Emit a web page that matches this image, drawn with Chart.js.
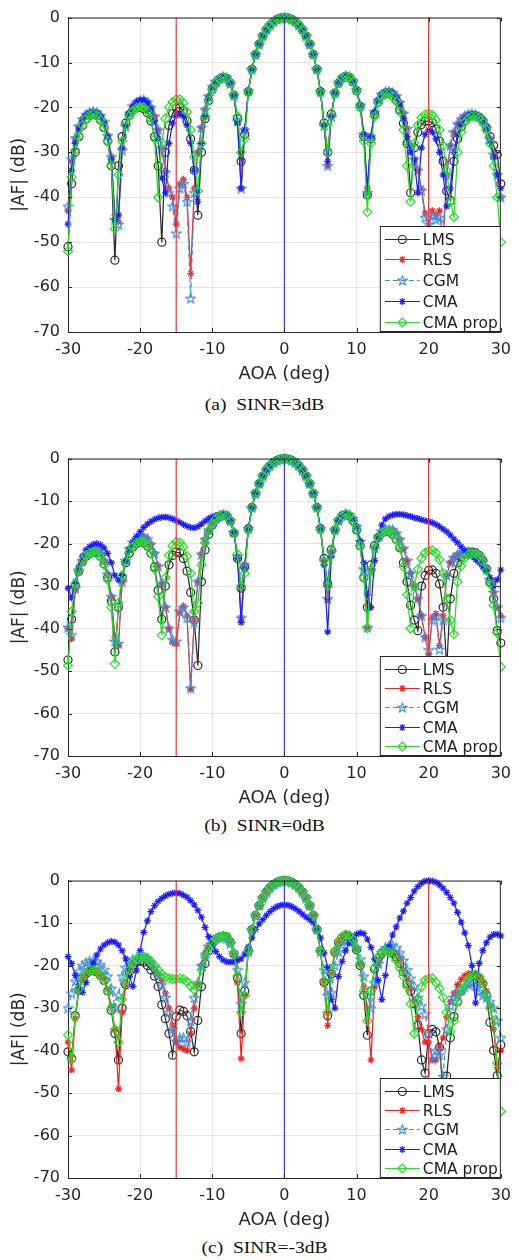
<!DOCTYPE html>
<html>
<head>
<meta charset="utf-8">
<script src="https://cdn.jsdelivr.net/npm/chart.js@4.4.1/dist/chart.umd.min.js"></script>
<style>
  html, body { margin: 0; padding: 0; background: #fff; overflow: hidden; }
  body { width: 519px; height: 1260px; position: relative; }
  .panel { position: absolute; left: 0; width: 519px; }
  .cap { position: absolute; left: 5px; width: 519px; height: 20px; line-height: 20px; text-align: center;
         font-family: "Liberation Serif", serif; font-size: 16px; color: #111; transform: scaleX(1.22); }
</style>
</head>
<body>
<div class="panel" style="top:0px;height:387px"><canvas id="ca" width="519" height="387"></canvas></div>
<div class="cap" style="top:395px">(a)&nbsp;&nbsp;SINR=3dB</div>
<div class="panel" style="top:441px;height:370px"><canvas id="cb" width="519" height="370"></canvas></div>
<div class="cap" style="top:816px">(b)&nbsp;&nbsp;SINR=0dB</div>
<div class="panel" style="top:863px;height:370px"><canvas id="cc" width="519" height="370"></canvas></div>
<div class="cap" style="top:1238px">(c)&nbsp;&nbsp;SINR=-3dB</div>

<script>
// angle of arrival grid (deg)
const aoa = [
  -30, -29.5, -29, -28.5, -28, -27.5, -27, -26.5, -26, -25.5,
  -25, -24.5, -24, -23.5, -23, -22.5, -22, -21.5, -21, -20.5,
  -20, -19.5, -19, -18.5, -18, -17.5, -17, -16.5, -16, -15.5,
  -15, -14.5, -14, -13.5, -13, -12.5, -12, -11.5, -11, -10.5,
  -10, -9.5, -9, -8.5, -8, -7.5, -7, -6.5, -6, -5.5,
  -5, -4.5, -4, -3.5, -3, -2.5, -2, -1.5, -1, -0.5,
  0, 0.5, 1, 1.5, 2, 2.5, 3, 3.5, 4, 4.5,
  5, 5.5, 6, 6.5, 7, 7.5, 8, 8.5, 9, 9.5,
  10, 10.5, 11, 11.5, 12, 12.5, 13, 13.5, 14, 14.5,
  15, 15.5, 16, 16.5, 17, 17.5, 18, 18.5, 19, 19.5,
  20, 20.5, 21, 21.5, 22, 22.5, 23, 23.5, 24, 24.5,
  25, 25.5, 26, 26.5, 27, 27.5, 28, 28.5, 29, 29.5,
  30
];
const desiredAoa = [0];
const interfAoa = [-15, 20];
const seriesNames = ['LMS', 'RLS', 'CGM', 'CMA', 'CMA prop'];

// ---- (a) SINR = 3 dB ----
const lmsA = [
  -51, -37, -30, -26.5, -24, -22.6, -21.8, -21.5, -21.8, -22.8,
  -24.5, -27.5, -33, -54, -33, -26.5, -23.5, -21.7, -20.6, -20.1,
  -20, -20.3, -21.2, -23, -26.5, -33, -50, -30, -24, -21.3,
  -20.2, -20, -20.8, -23, -27, -34, -44, -30, -22.5, -18.5,
  -16, -14.6, -13.7, -13.3, -13.5, -14.6, -17.3, -22.5, -32, -26,
  -16.5, -11.5, -8.2, -5.9, -4.1, -2.7, -1.7, -0.9, -0.4, -0.1,
  0, -0.1, -0.4, -0.9, -1.7, -2.7, -4.1, -5.9, -8.2, -11.5,
  -16.5, -23.5, -30, -21.5, -16.8, -14.6, -13.5, -13.1, -13.3, -14.3,
  -16.3, -19.8, -26.5, -39.5, -27, -21.5, -18.8, -17.4, -16.9, -16.9,
  -17.4, -18.4, -20.5, -23.5, -28, -39, -29, -25.5, -23.8, -23.1,
  -23, -23.4, -24.8, -27.5, -32, -38.6, -40.7, -32, -27, -24.3,
  -22.9, -22.2, -21.9, -21.9, -22.2, -23, -24.5, -26.5, -28.5, -30.5,
  -37
];
const rlsA = [
  -43, -32, -27, -24.3, -22.6, -21.6, -21.1, -20.9, -21.1, -21.8,
  -23.2, -26.3, -31, -44, -45.5, -29, -24.2, -21.3, -19.7, -18.8,
  -18.4, -18.3, -18.8, -20, -22, -25, -29, -34, -38, -40,
  -46, -37, -36, -40, -57, -38, -30, -24.5, -20.5, -17.5,
  -15.4, -14.2, -13.5, -13.2, -13.4, -14.6, -17.3, -23, -38, -25,
  -16.3, -11.5, -8.2, -5.9, -4.1, -2.7, -1.7, -0.9, -0.4, -0.1,
  0, -0.1, -0.4, -0.9, -1.7, -2.7, -4.1, -5.9, -8.2, -11.5,
  -16.5, -24, -33, -22, -16.8, -14.5, -13.4, -13, -13.2, -14.1,
  -16, -19.5, -26, -39, -26.5, -21, -18.4, -17.1, -16.5, -16.4,
  -16.7, -17.5, -18.9, -21.3, -24.7, -28.5, -31.5, -34, -38, -43.5,
  -47, -43, -44, -43, -50, -35, -28.5, -25.5, -23.7, -22.6,
  -21.9, -21.5, -21.4, -21.6, -22.1, -23, -24.6, -27, -30.5, -35,
  -40
];
const cgmA = [
  -42, -31.5, -26.8, -24.2, -22.6, -21.6, -21.1, -20.9, -21.1, -21.8,
  -23.2, -26.3, -31, -45, -46, -29.5, -24.2, -21.3, -19.7, -18.8,
  -18.4, -18.3, -18.8, -20, -22, -25, -29, -34.5, -39, -42,
  -48, -38, -37, -41, -62.5, -39, -30, -24.5, -20.5, -17.5,
  -15.4, -14.2, -13.5, -13.2, -13.4, -14.6, -17.3, -23, -38, -25,
  -16.3, -11.5, -8.2, -5.9, -4.1, -2.7, -1.7, -0.9, -0.4, -0.1,
  0, -0.1, -0.4, -0.9, -1.7, -2.7, -4.1, -5.9, -8.2, -11.5,
  -16.5, -24, -33, -22, -16.8, -14.5, -13.4, -13, -13.2, -14.1,
  -16, -19.5, -26, -39, -26.5, -21, -18.4, -17.1, -16.5, -16.4,
  -16.7, -17.5, -18.9, -21.3, -24.7, -28.5, -31.5, -34, -38.5, -44.5,
  -46, -44, -45, -44.5, -48, -35, -28.5, -25.5, -23.7, -22.6,
  -21.9, -21.5, -21.4, -21.6, -22.1, -23, -24.6, -27, -30.5, -35,
  -40
];
const cmaA = [
  -46, -34, -28, -24.8, -23, -21.9, -21.3, -21.1, -21.3, -22,
  -23.5, -26.6, -31.5, -45, -44, -29, -24.2, -21.3, -19.7, -18.8,
  -18.4, -18.4, -19, -20.5, -23, -27, -35.7, -39, -28, -23.5,
  -21.8, -21.5, -22, -24, -28, -34, -41, -28, -22, -18,
  -15.6, -14.3, -13.5, -13.2, -13.4, -14.6, -17.5, -23.5, -38, -25,
  -16.5, -11.5, -8.2, -5.9, -4.1, -2.7, -1.7, -0.9, -0.4, -0.1,
  0, -0.1, -0.4, -0.9, -1.7, -2.7, -4.1, -5.9, -8.2, -11.5,
  -16.5, -24, -32, -22, -16.8, -14.5, -13.4, -13, -13.2, -14.1,
  -16, -19.5, -26, -38, -26.5, -21, -18.4, -17.1, -16.5, -16.4,
  -16.8, -17.7, -19.5, -22.5, -26.5, -30, -31.7, -39, -29, -26,
  -25, -25.5, -27, -30, -35, -42, -38, -30, -26, -23.8,
  -22.5, -21.8, -21.5, -21.6, -22, -23, -24.6, -27.5, -31, -35,
  -38
];
const propA = [
  -52, -35.5, -29.5, -26.5, -24, -22.6, -21.8, -21.5, -21.8, -22.8,
  -24.5, -27.5, -33, -47, -35, -27.5, -24, -22, -20.8, -20.1,
  -19.8, -20, -20.8, -22.5, -27, -40, -28, -22.5, -20, -18.8,
  -18.2, -18.2, -19, -21, -25, -31, -38.6, -28, -22, -18.5,
  -16, -14.6, -13.7, -13.3, -13.5, -14.6, -17.3, -22, -30, -27,
  -16.8, -11.6, -8.2, -5.9, -4.1, -2.7, -1.7, -0.9, -0.4, -0.1,
  0, -0.1, -0.4, -0.9, -1.7, -2.7, -4.1, -5.9, -8.2, -11.6,
  -16.8, -24, -30, -22, -16.8, -14.6, -13.5, -13.1, -13.3, -14.3,
  -16.3, -20, -27.5, -43.3, -28, -22, -19, -17.6, -17, -16.9,
  -17.5, -18.7, -21, -25, -33, -41, -28, -24, -22.3, -21.6,
  -21.4, -21.7, -22.8, -25, -28.5, -34, -41, -44.4, -30, -25.5,
  -23.3, -22.4, -22, -22, -22.4, -23.3, -25, -28, -33, -40,
  -50
];

// ---- (b) SINR = 0 dB ----
const lmsB = [
  -47.4, -37.8, -30, -26.5, -24.2, -23, -22.3, -22, -22.2, -23,
  -24.8, -28, -33.5, -45.5, -35, -28, -24.5, -22.3, -20.8, -20,
  -19.6, -19.8, -20.6, -22.3, -25.5, -31, -37.8, -30, -25, -22.8,
  -22, -22.2, -23.5, -26.5, -31.5, -38, -48.7, -29, -21.5, -17.8,
  -15.6, -14.3, -13.6, -13.3, -13.5, -14.7, -17.5, -23.5, -30.5, -25.5,
  -16.5, -11.5, -8.2, -5.9, -4.1, -2.7, -1.7, -0.9, -0.4, -0.1,
  0, -0.1, -0.4, -0.9, -1.7, -2.7, -4.1, -5.9, -8.2, -11.5,
  -16.5, -23.5, -29.5, -21.5, -16.8, -14.6, -13.5, -13.2, -13.5, -14.6,
  -16.8, -20.5, -28, -35, -25, -20.5, -18.6, -17.5, -17.1, -17.2,
  -17.8, -19, -21, -24.5, -29, -34.5, -38, -40.5, -30, -27.5,
  -26.3, -26.2, -27, -29.5, -35, -49, -33, -27, -24.5, -23.2,
  -22.5, -22.1, -22, -22.2, -22.8, -24, -26, -29, -33, -40.5,
  -43.4
];
const rlsB = [
  -40, -42.4, -31, -26.5, -24, -22.5, -21.8, -21.5, -21.6, -22.3,
  -24, -27.2, -32.5, -42, -44, -29, -24, -21.2, -19.7, -18.9,
  -18.5, -18.4, -18.9, -20.2, -22.3, -25.3, -29.5, -35, -40, -43.2,
  -43.6, -36.3, -34.7, -37, -54.3, -38, -29, -22.5, -19, -16.8,
  -15.2, -14.1, -13.5, -13.2, -13.4, -14.6, -17.3, -23, -37.5, -25,
  -16.5, -11.5, -8.2, -5.9, -4.1, -2.7, -1.7, -0.9, -0.4, -0.1,
  0, -0.1, -0.4, -0.9, -1.7, -2.7, -4.1, -5.9, -8.2, -11.5,
  -16.5, -24, -33.2, -22, -16.8, -14.5, -13.4, -13, -13.2, -14.1,
  -16, -19.5, -26, -39.7, -26.5, -21, -18.4, -17.1, -16.6, -16.6,
  -16.8, -17.6, -19, -21.2, -24, -27, -30, -33, -37, -42,
  -46, -37.5, -36.5, -44, -37, -27.5, -24.5, -23.3, -22.6, -22.2,
  -22, -21.9, -22, -22.3, -23, -24.2, -26, -28.5, -31.5, -35,
  -37
];
const cgmB = [
  -39.7, -41.5, -30.5, -26.3, -24, -22.5, -21.8, -21.5, -21.6, -22.3,
  -24, -27.2, -32.5, -43, -43.5, -29, -24, -21.2, -19.7, -18.9,
  -18.5, -18.4, -18.9, -20.2, -22.3, -25.3, -29.5, -35, -40, -42.6,
  -43, -36, -35, -37.5, -54, -38.5, -29, -22.5, -19, -16.8,
  -15.2, -14.1, -13.5, -13.2, -13.4, -14.6, -17.3, -23, -37.5, -25,
  -16.5, -11.5, -8.2, -5.9, -4.1, -2.7, -1.7, -0.9, -0.4, -0.1,
  0, -0.1, -0.4, -0.9, -1.7, -2.7, -4.1, -5.9, -8.2, -11.5,
  -16.5, -24, -33, -22, -16.8, -14.5, -13.4, -13, -13.2, -14.1,
  -16, -19.5, -26, -39.7, -26.5, -21, -18.4, -17.1, -16.6, -16.6,
  -16.8, -17.6, -19, -21.2, -24, -27, -30, -33, -37, -42,
  -45, -38, -37, -44.9, -38, -27.5, -24.5, -23.3, -22.6, -22.2,
  -22, -21.9, -22, -22.3, -23, -24.2, -26, -28.5, -31.5, -35,
  -37.5
];
const cmaB = [
  -30.5, -32.8, -29, -25.5, -23, -21.5, -20.7, -20.2, -20, -20.3,
  -21, -22.3, -24.5, -27.5, -28.6, -27.5, -24, -21.5, -19.7, -18.3,
  -17.2, -16.2, -15.4, -14.8, -14.3, -14, -13.8, -13.75, -13.9, -14.2,
  -14.6, -15, -15.5, -15.9, -16.2, -16.3, -16, -15.4, -14.7, -14.1,
  -13.7, -13.4, -13.2, -13.1, -13.4, -14.6, -17.5, -23.5, -38.6, -26,
  -16.5, -11.5, -8.2, -5.9, -4.1, -2.7, -1.7, -0.9, -0.4, -0.1,
  0, -0.1, -0.4, -0.9, -1.7, -2.7, -4.1, -5.9, -8.2, -11.5,
  -16.5, -25, -40.8, -23, -17, -14.6, -13.4, -13, -13.2, -14.1,
  -16, -19.5, -24.5, -32, -35, -24, -18.5, -15.6, -14.2, -13.6,
  -13.3, -13.1, -13.1, -13.2, -13.4, -13.6, -13.9, -14.1, -14.4, -14.6,
  -14.8, -15.1, -15.5, -16, -16.6, -17.2, -18, -18.9, -19.8, -20.7,
  -21.6, -22.3, -23, -23.8, -24.5, -25.5, -26.5, -28, -30, -28.5,
  -26.2
];
const propB = [
  -48.7, -36, -29.5, -26.3, -24, -22.8, -22.2, -22, -22.3, -23.2,
  -25, -28.5, -35, -48.3, -34, -27.5, -24.2, -22, -20.7, -19.9,
  -19.5, -19.7, -20.5, -22.3, -26, -32.5, -41.6, -28, -22.8, -20.5,
  -19.6, -19.8, -20.8, -23, -27, -36, -34, -25, -19.8, -17,
  -15.3, -14.2, -13.5, -13.2, -13.4, -14.6, -17.3, -22.5, -30, -27,
  -16.8, -11.6, -8.2, -5.9, -4.1, -2.7, -1.7, -0.9, -0.4, -0.1,
  0, -0.1, -0.4, -0.9, -1.7, -2.7, -4.1, -5.9, -8.2, -11.6,
  -16.8, -24, -30, -22, -16.8, -14.6, -13.5, -13.1, -13.4, -14.5,
  -16.6, -20.5, -28, -39.9, -26, -21, -18.8, -17.4, -17, -17.1,
  -17.7, -19, -20.8, -25.4, -32, -40, -30, -26, -23.5, -22.2,
  -21.7, -21.6, -22.2, -23.8, -27, -33, -38, -41.3, -29, -25.3,
  -23.4, -22.6, -22.3, -22.4, -23, -24.2, -26.3, -29.5, -34.5, -41,
  -49
];

// ---- (c) SINR = -3 dB ----
const lmsC = [
  -40.3, -41.9, -31.8, -25.8, -23, -21.9, -21.3, -21.2, -21.5, -22.3,
  -23.5, -26, -30.5, -36, -42.2, -30, -24.5, -21.5, -20, -19.2,
  -18.9, -19.2, -20, -21, -22.5, -24.9, -29.2, -32.5, -36, -41.1,
  -32, -30.5, -30.8, -31.8, -35.5, -40.3, -32.9, -25, -19.5, -16.5,
  -14.8, -13.8, -13.3, -13.1, -13.3, -14.5, -17.3, -23, -36, -26,
  -16.5, -11.5, -8.2, -5.9, -4.1, -2.7, -1.7, -0.9, -0.4, -0.1,
  0, -0.1, -0.4, -0.9, -1.7, -2.7, -4.1, -5.9, -8.2, -11.5,
  -16.5, -24, -31.8, -22, -16.8, -14.5, -13.4, -13, -13.3, -14.3,
  -16.3, -20, -27, -36.4, -26, -20.8, -18.3, -17, -16.5, -16.5,
  -17, -18, -19.5, -21.5, -24.2, -26, -29, -34, -42.2, -45.3,
  -36, -35, -35.6, -39.2, -50, -46, -37, -32, -28.5, -26,
  -24.2, -23, -22.3, -22.3, -23, -24.2, -27, -33.4, -40, -45.9,
  -38.7
];
const rlsC = [
  -38, -44.6, -32.5, -26, -23.2, -22, -21.4, -21.2, -21.4, -22.1,
  -23.2, -25.6, -29.5, -35, -49, -31, -24.6, -21.4, -19.7, -18.8,
  -18.3, -18.2, -18.5, -19.4, -20.8, -22, -23.5, -26.5, -30, -34,
  -38, -39.2, -39.6, -40, -36, -30, -24.5, -20, -17, -15.2,
  -14.2, -13.5, -13.1, -13, -13.2, -14.5, -17.5, -24, -41.9, -27,
  -16.5, -11.5, -8.2, -5.9, -4.1, -2.7, -1.7, -0.9, -0.4, -0.1,
  0, -0.1, -0.4, -0.9, -1.7, -2.7, -4.1, -5.9, -8.2, -11.5,
  -16.5, -24, -34.1, -22, -16.8, -14.5, -13.4, -13, -13.2, -14.2,
  -16.2, -19.8, -25, -30, -42.2, -25, -20, -17.8, -16.8, -16.4,
  -16.5, -17.3, -18.7, -20.8, -23, -25.5, -28.4, -32, -35, -38,
  -38, -42.2, -42.2, -39.2, -37, -32, -28.5, -26.5, -24.5, -23.2,
  -22.4, -21.9, -21.8, -22, -22.7, -24, -26, -29.5, -35, -44,
  -40
];
const cgmC = [
  -30, -26.5, -23.7, -21.3, -20, -19.3, -18.9, -18.8, -19.1, -19.8,
  -21, -22.5, -25.4, -30, -27, -22.5, -20.5, -19.3, -18.6, -18.2,
  -18, -18, -18.4, -19.2, -20.5, -22.2, -24.5, -27.5, -31, -35,
  -37.8, -37, -37, -38, -33, -27.6, -24.1, -20, -17.5, -15.5,
  -14.2, -13.6, -13.3, -13.2, -13.6, -14.8, -17, -21, -29, -24,
  -16.8, -11.6, -8.2, -5.9, -4.1, -2.7, -1.7, -0.9, -0.4, -0.1,
  0, -0.1, -0.4, -0.9, -1.7, -2.7, -4.1, -5.9, -8.2, -11.6,
  -16.8, -21, -27, -26.4, -20, -16.8, -15, -14.2, -14, -14.4,
  -15.8, -18.5, -22.5, -27, -30, -24, -19.5, -17, -15.8, -15.3,
  -15.3, -15.8, -17, -18.8, -21, -23, -24.9, -27.5, -29.5, -31.4,
  -36, -42, -40, -41, -46.1, -35, -29.5, -27.5, -26.3, -25.7,
  -25, -24.4, -24.2, -24.8, -26, -27, -27.5, -28.5, -30, -33,
  -37
];
const cmaC = [
  -17.9, -19.5, -22.3, -24.9, -26.3, -24, -21, -19.4, -17.5, -16.1,
  -15.2, -14.6, -14.3, -14.5, -15.2, -16.5, -18.4, -22.6, -24.9, -21.1,
  -16.5, -12.2, -9.5, -7.3, -5.9, -4.9, -4.2, -3.6, -3.2, -3,
  -2.9, -3, -3.4, -3.9, -4.7, -5.7, -7, -8.6, -11, -13.2,
  -15, -16.7, -17.9, -18.7, -19.1, -19.2, -19.1, -18.8, -18.4, -17.3,
  -15.6, -13.5, -11.5, -10.2, -9.2, -8.2, -7.3, -6.6, -6.1, -5.8,
  -5.7, -5.8, -6.1, -6.6, -7.2, -7.9, -8.6, -9.2, -9.9, -11.2,
  -13.5, -17, -20.5, -28, -30, -22.6, -19, -16.5, -14.6, -13.3,
  -12.6, -12.3, -12.5, -13.8, -15.7, -18.5, -23.5, -28, -22.3, -15.6,
  -12.8, -10.9, -8.8, -7.2, -5.3, -4, -2.5, -1.4, -0.6, -0.15,
  0, -0.1, -0.4, -1, -1.8, -2.8, -4, -5.3, -7.5, -9.8,
  -12.3, -15.3, -20, -28.8, -19.5, -16.5, -14.6, -13.3, -12.7, -12.6,
  -13
];
const propC = [
  -36.3, -42, -32, -25.5, -23, -21.8, -21.2, -21.1, -21.4, -22.2,
  -23.5, -26, -30, -35, -38, -28, -23.5, -21, -19.4, -18.5,
  -18, -17.9, -18.2, -19, -20, -21, -22, -22.7, -23, -23.2,
  -23.2, -23, -23.2, -23.8, -24.8, -25.7, -24.5, -21, -18, -16,
  -14.6, -13.7, -13.2, -13, -13.3, -14.5, -17.2, -22.5, -31, -27,
  -16.5, -11.5, -8.2, -5.9, -4.1, -2.7, -1.7, -0.9, -0.4, -0.1,
  0, -0.1, -0.4, -0.9, -1.7, -2.7, -4.1, -5.9, -8.2, -11.5,
  -16.5, -23.5, -31, -21.5, -16.5, -14.3, -13.2, -12.7, -12.9, -13.9,
  -15.9, -19.5, -26, -33, -26, -20.5, -18, -16.9, -16.5, -16.8,
  -17.5, -18.8, -20.5, -22.5, -24.9, -29, -36, -28, -25, -23.4,
  -23.1, -23, -24, -25.4, -27.5, -31, -35.6, -33, -28.5, -25.8,
  -24.2, -23, -22.3, -22.1, -22.6, -24.2, -27, -30, -33, -43,
  -54.3
];

Chart.defaults.font.family = '"DejaVu Sans", sans-serif';
Chart.defaults.color = '#262626';

const axisColor = '#262626';
const gridColor = '#e4e4e4';

// pentagram marker for CGM
function pentagram(color) {
  const c = document.createElement('canvas');
  c.width = 11; c.height = 11;
  const g = c.getContext('2d');
  g.strokeStyle = color;
  g.lineWidth = 1.1;
  g.beginPath();
  for (let k = 0; k < 10; k++) {
    const r = k % 2 ? 2.1 : 5;
    const a = -Math.PI / 2 + k * Math.PI / 5;
    const px = 5.5 + r * Math.cos(a), py = 5.9 + r * Math.sin(a);
    if (k) g.lineTo(px, py); else g.moveTo(px, py);
  }
  g.closePath();
  g.stroke();
  return c;
}

const looks = [
  { color: '#2a2a2a', pointStyle: 'circle', radius: 4, dash: [] },
  { color: '#ff1e1e', pointStyle: 'star', radius: 3.5, dash: [] },
  { color: '#3d8edb', pointStyle: pentagram('#3d8edb'), radius: 4, dash: [5, 3] },
  { color: '#1c1cff', pointStyle: 'star', radius: 3.5, dash: [] },
  { color: '#22e022', pointStyle: 'rectRot', radius: 4.5, dash: [] }
];

// inward ticks + box on top/right, like the matlab axes
const axesBox = {
  id: 'axesBox',
  afterDatasetsDraw(chart) {
    const { ctx, chartArea: a, scales } = chart;
    ctx.save();
    ctx.strokeStyle = axisColor;
    ctx.lineWidth = 1;
    ctx.beginPath();
    ctx.moveTo(a.left + 0.5, a.top + 0.5);
    ctx.lineTo(a.right - 0.5, a.top + 0.5);
    ctx.lineTo(a.right - 0.5, a.bottom);
    ctx.stroke();
    ctx.beginPath();
    for (let v = -30; v <= 30; v += 10) {
      const px = Math.round(scales.x.getPixelForValue(v)) + 0.5;
      ctx.moveTo(px, a.bottom); ctx.lineTo(px, a.bottom - 4);
      ctx.moveTo(px, a.top); ctx.lineTo(px, a.top + 4);
    }
    for (let v = -70; v <= 0; v += 10) {
      const py = Math.round(scales.y.getPixelForValue(v)) + 0.5;
      ctx.moveTo(a.left, py); ctx.lineTo(a.left + 4, py);
      ctx.moveTo(a.right, py); ctx.lineTo(a.right - 4, py);
    }
    ctx.stroke();
    ctx.restore();
  }
};

const legendBox = {
  id: 'legendBox',
  afterDraw(chart, args, opts) {
    const { ctx, chartArea: a } = chart;
    const w = 121, h = opts.height;
    const x0 = a.right - w, y0 = a.bottom - h;
    ctx.save();
    ctx.fillStyle = '#fff';
    ctx.fillRect(x0, y0, w, h);
    ctx.strokeStyle = axisColor;
    ctx.lineWidth = 1;
    ctx.strokeRect(x0 + 0.5, y0 + 0.5, w - 1, h - 1);
    const step = (h - 22.5) / 4;
    seriesNames.forEach((name, i) => {
      const lk = looks[i];
      const y = Math.round(y0 + 12.5 + i * step) + 0.5;
      ctx.strokeStyle = lk.color;
      ctx.lineWidth = 1.2;
      ctx.setLineDash(lk.dash);
      ctx.beginPath();
      ctx.moveTo(x0 + 5, y);
      ctx.lineTo(x0 + 40, y);
      ctx.stroke();
      ctx.setLineDash([]);
      ctx.fillStyle = 'rgba(0,0,0,0)';
      Chart.helpers.drawPoint(ctx, { pointStyle: lk.pointStyle, radius: lk.radius, rotation: 0, borderWidth: 1.2 }, x0 + 22.5, y);
      ctx.fillStyle = '#1a1a1a';
      ctx.font = '15.5px "DejaVu Sans"';
      ctx.textBaseline = 'middle';
      ctx.textAlign = 'left';
      ctx.fillText(name, x0 + 43, y + 1);
    });
    ctx.restore();
  }
};

function makeChart(id, series, legendH) {
  const datasets = series.map((vals, i) => ({
    label: seriesNames[i],
    data: aoa.map((x, k) => ({ x: x, y: vals[k] })),
    borderColor: looks[i].color,
    borderWidth: 1.25,
    borderDash: looks[i].dash,
    pointStyle: looks[i].pointStyle,
    pointRadius: looks[i].radius,
    pointBorderColor: looks[i].color,
    pointBackgroundColor: 'rgba(0,0,0,0)',
    pointBorderWidth: 1.2,
    tension: 0,
    clip: false,
    order: 5 - i
  }));
  desiredAoa.concat(interfAoa).forEach(v => {
    datasets.push({
      label: 'dir',
      data: [{ x: v, y: 0 }, { x: v, y: -70 }],
      borderColor: desiredAoa.includes(v) ? '#3737ff' : '#ff2b2b',
      borderWidth: 1.2,
      pointRadius: 0,
      order: 0
    });
  });

  new Chart(document.getElementById(id), {
    type: 'line',
    data: { datasets: datasets },
    options: {
      responsive: false,
      animation: false,
      layout: { padding: { top: 12, right: 11, left: 0, bottom: 0 } },
      plugins: {
        legend: { display: false },
        tooltip: { enabled: false },
        legendBox: { height: legendH }
      },
      scales: {
        x: {
          type: 'linear', min: -30, max: 30,
          ticks: { stepSize: 10, padding: 8, color: axisColor, font: { size: 16 } },
          grid: { color: gridColor, drawTicks: false },
          border: { color: axisColor },
          title: { display: true, text: 'AOA (deg)', color: axisColor, font: { size: 18 }, padding: { top: 0, bottom: 2 } },
          afterFit: s => { s.height = 55; }
        },
        y: {
          min: -70, max: 0,
          ticks: { stepSize: 10, padding: 8, color: axisColor, font: { size: 16 } },
          grid: { color: gridColor, drawTicks: false },
          border: { color: axisColor },
          title: { display: true, text: '|AF| (dB)', color: axisColor, font: { size: 17 }, padding: { top: 9, bottom: 0 } },
          afterFit: s => { s.width = 68; }
        }
      }
    },
    plugins: [axesBox, legendBox]
  });
}

makeChart('ca', [lmsA, rlsA, cgmA, cmaA, propA], 106);
makeChart('cb', [lmsB, rlsB, cgmB, cmaB, propB], 100);
makeChart('cc', [lmsC, rlsC, cgmC, cmaC, propC], 100);
</script>
</body>
</html>
